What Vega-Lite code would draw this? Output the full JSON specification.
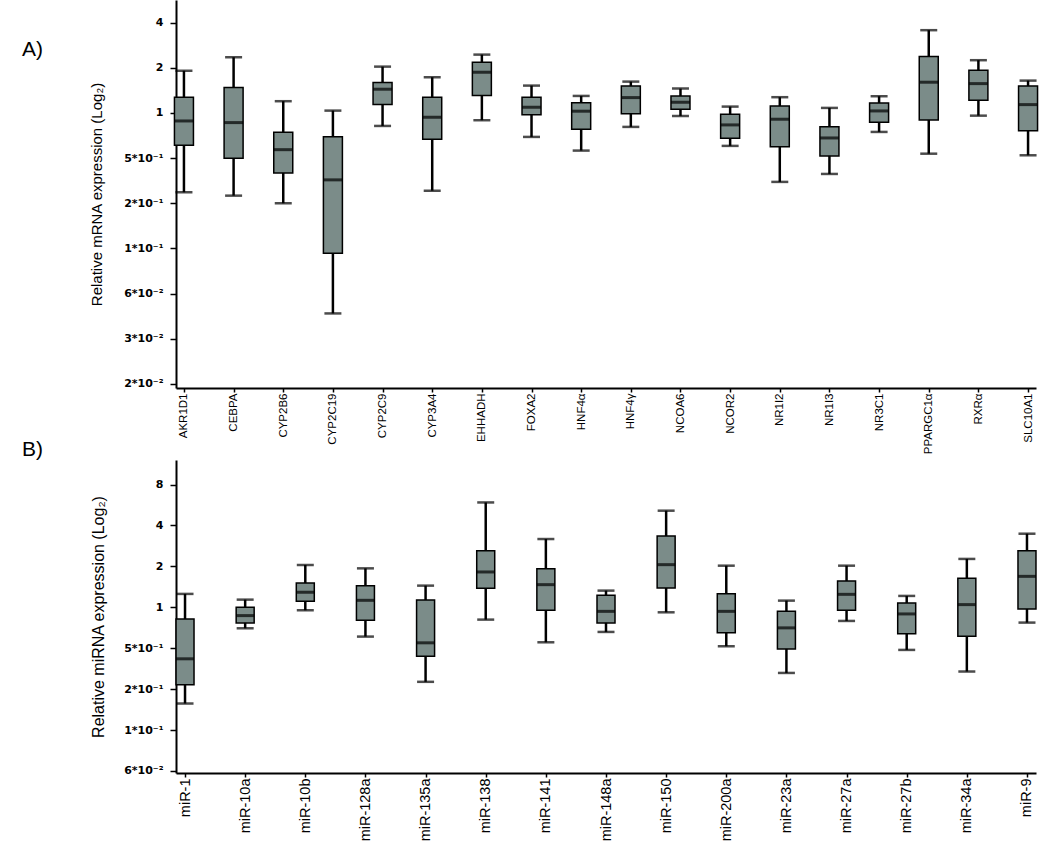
{
  "$schema": "https://vega.github.io/schema/vega-lite/v6.json",
  "padding": {"left": 22, "top": 0, "right": 5, "bottom": 0},
  "background": "white",
  "bounds": "flush",
  "spacing": 72,
  "config": {
    "view": {"stroke": null},
    "font": "Liberation Sans",
    "axis": {
      "grid": false,
      "domainColor": "#000000",
      "domainWidth": 2,
      "tickColor": "#000000",
      "tickWidth": 1.5,
      "labelColor": "#000000",
      "titleColor": "#000000"
    },
    "axisY": {
      "titleFontWeight": "normal",
      "labelFont": "DejaVu Sans", "labelFontWeight": "bold", "labelFontSize": 11,
      "tickSize": 6, "labelPadding": 7
    }
  },
  "datasets": {
    "mrna": [
      {"gene": "AKR1D1", "min": 0.296, "q1": 0.609, "median": 0.884, "q3": 1.27, "max": 1.91},
      {"gene": "CEBPA", "min": 0.281, "q1": 0.499, "median": 0.862, "q3": 1.48, "max": 2.35},
      {"gene": "CYP2B6", "min": 0.25, "q1": 0.398, "median": 0.569, "q3": 0.743, "max": 1.197},
      {"gene": "CYP2C19", "min": 0.0461, "q1": 0.116, "median": 0.358, "q3": 0.695, "max": 1.036},
      {"gene": "CYP2C9", "min": 0.819, "q1": 1.136, "median": 1.439, "q3": 1.592, "max": 2.035},
      {"gene": "CYP3A4", "min": 0.303, "q1": 0.668, "median": 0.936, "q3": 1.273, "max": 1.73},
      {"gene": "EHHADH", "min": 0.894, "q1": 1.305, "median": 1.867, "q3": 2.178, "max": 2.447},
      {"gene": "FOXA2", "min": 0.692, "q1": 0.974, "median": 1.091, "q3": 1.273, "max": 1.521},
      {"gene": "HNF4α", "min": 0.561, "q1": 0.779, "median": 1.027, "q3": 1.171, "max": 1.298},
      {"gene": "HNF4γ", "min": 0.807, "q1": 0.989, "median": 1.265, "q3": 1.514, "max": 1.617},
      {"gene": "NCOA6", "min": 0.955, "q1": 1.058, "median": 1.178, "q3": 1.298, "max": 1.452},
      {"gene": "NCOR2", "min": 0.603, "q1": 0.678, "median": 0.832, "q3": 0.98, "max": 1.102},
      {"gene": "NR1I2", "min": 0.347, "q1": 0.596, "median": 0.908, "q3": 1.113, "max": 1.273},
      {"gene": "NR1I3", "min": 0.392, "q1": 0.517, "median": 0.681, "q3": 0.81, "max": 1.08},
      {"gene": "NR3C1", "min": 0.747, "q1": 0.867, "median": 1.031, "q3": 1.166, "max": 1.292},
      {"gene": "PPARGC1α", "min": 0.535, "q1": 0.898, "median": 1.602, "q3": 2.374, "max": 3.56},
      {"gene": "RXRα", "min": 0.959, "q1": 1.215, "median": 1.568, "q3": 1.926, "max": 2.246},
      {"gene": "SLC10A1", "min": 0.522, "q1": 0.762, "median": 1.136, "q3": 1.514, "max": 1.642}
    ],
    "mirna": [
      {"gene": "miR-1", "min": 0.196, "q1": 0.269, "median": 0.418, "q3": 0.822, "max": 1.255},
      {"gene": "miR-10a", "min": 0.701, "q1": 0.768, "median": 0.869, "q3": 1.0, "max": 1.139},
      {"gene": "miR-10b", "min": 0.951, "q1": 1.107, "median": 1.289, "q3": 1.511, "max": 2.05},
      {"gene": "miR-128a", "min": 0.609, "q1": 0.803, "median": 1.126, "q3": 1.444, "max": 1.935},
      {"gene": "miR-135a", "min": 0.283, "q1": 0.437, "median": 0.548, "q3": 1.134, "max": 1.444},
      {"gene": "miR-138", "min": 0.812, "q1": 1.38, "median": 1.82, "q3": 2.61, "max": 5.91},
      {"gene": "miR-141", "min": 0.553, "q1": 0.951, "median": 1.468, "q3": 1.925, "max": 3.18},
      {"gene": "miR-148a", "min": 0.659, "q1": 0.768, "median": 0.934, "q3": 1.225, "max": 1.327},
      {"gene": "miR-150", "min": 0.919, "q1": 1.389, "median": 2.06, "q3": 3.35, "max": 5.14},
      {"gene": "miR-200a", "min": 0.517, "q1": 0.649, "median": 0.934, "q3": 1.261, "max": 2.025},
      {"gene": "miR-23a", "min": 0.329, "q1": 0.494, "median": 0.706, "q3": 0.934, "max": 1.12},
      {"gene": "miR-27a", "min": 0.794, "q1": 0.951, "median": 1.246, "q3": 1.564, "max": 2.025},
      {"gene": "miR-27b", "min": 0.486, "q1": 0.638, "median": 0.894, "q3": 1.077, "max": 1.213},
      {"gene": "miR-34a", "min": 0.337, "q1": 0.612, "median": 1.047, "q3": 1.634, "max": 2.27},
      {"gene": "miR-9", "min": 0.772, "q1": 0.973, "median": 1.69, "q3": 2.61, "max": 3.48}
    ]
  },
  "vconcat": [
    {
      "width": 860,
      "height": 388,
      "data": {"name": "mrna"},
      "title": {"text": "A)", "anchor": "start", "frame": "group", "orient": "top", "offset": 0, "baseline": "top", "dx": -154, "dy": 60, "fontSize": 21, "fontWeight": "normal", "font": "Liberation Sans", "color": "#000000"},
      "encoding": {
        "x": {
          "field": "gene", "type": "nominal", "sort": null,
          "scale": {"type": "point", "padding": 0.16},
          "axis": {"title": null, "labelAngle": -90, "labelFontSize": 11.5, "labelFont": "Liberation Sans", "tickSize": 4, "labelPadding": 1}
        },
        "y": {
          "field": "min", "type": "quantitative",
          "scale": {"type": "log", "base": 2, "domain": [0.01468, 5.657], "nice": false},
          "axis": {
            "title": "Relative mRNA expression (Log₂)",
            "titleFontSize": 15, "titlePadding": 19,
            "values": [0.015625, 0.03125, 0.0625, 0.125, 0.25, 0.5, 1, 2, 4],
            "labelExpr": "datum.value >= 1 ? format(datum.value, 'd') : datum.value == 0.5 ? '5*10⁻¹' : datum.value == 0.25 ? '2*10⁻¹' : datum.value == 0.125 ? '1*10⁻¹' : datum.value == 0.0625 ? '6*10⁻²' : datum.value == 0.03125 ? '3*10⁻²' : '2*10⁻²'"
          }
        }
      },
      "layer": [
        {
          "mark": {"type": "rule", "color": "#000000", "strokeWidth": 2.5},
          "encoding": {"y2": {"field": "max"}}
        },
        {
          "mark": {"type": "bar", "fill": "#7b8c89", "stroke": "#000000", "strokeWidth": 1.5, "width": 19},
          "encoding": {"y": {"field": "q1", "type": "quantitative"}, "y2": {"field": "q3"}}
        },
        {
          "mark": {"type": "tick", "color": "#000000", "thickness": 3, "size": 19},
          "encoding": {"y": {"field": "median", "type": "quantitative"}}
        },
        {
          "mark": {"type": "tick", "color": "#000000", "thickness": 2.5, "size": 17},
          "encoding": {}
        },
        {
          "mark": {"type": "tick", "color": "#000000", "thickness": 2.5, "size": 17},
          "encoding": {"y": {"field": "max", "type": "quantitative"}}
        }
      ]
    },
    {
      "width": 860,
      "height": 313,
      "data": {"name": "mirna"},
      "title": {"text": "B)", "anchor": "start", "frame": "group", "orient": "top", "offset": 0, "baseline": "top", "dx": -154, "dy": 0, "fontSize": 21, "fontWeight": "normal", "font": "Liberation Sans", "color": "#000000"},
      "encoding": {
        "x": {
          "field": "gene", "type": "nominal", "sort": null,
          "scale": {"type": "point", "padding": 0.15},
          "axis": {"title": null, "labelAngle": -90, "labelFontSize": 14.5, "labelFont": "Liberation Sans", "tickSize": 4, "labelPadding": 1}
        },
        "y": {
          "field": "min", "type": "quantitative",
          "scale": {"type": "log", "base": 2, "domain": [0.0604, 12.13], "nice": false},
          "axis": {
            "title": "Relative miRNA expression (Log₂)",
            "titleFontSize": 16, "titlePadding": 17,
            "values": [0.0625, 0.125, 0.25, 0.5, 1, 2, 4, 8],
            "labelExpr": "datum.value >= 1 ? format(datum.value, 'd') : datum.value == 0.5 ? '5*10⁻¹' : datum.value == 0.25 ? '2*10⁻¹' : datum.value == 0.125 ? '1*10⁻¹' : '6*10⁻²'"
          }
        }
      },
      "layer": [
        {
          "mark": {"type": "rule", "color": "#000000", "strokeWidth": 2.5},
          "encoding": {"y2": {"field": "max"}}
        },
        {
          "mark": {"type": "bar", "fill": "#7b8c89", "stroke": "#000000", "strokeWidth": 1.5, "width": 18},
          "encoding": {"y": {"field": "q1", "type": "quantitative"}, "y2": {"field": "q3"}}
        },
        {
          "mark": {"type": "tick", "color": "#000000", "thickness": 3, "size": 18},
          "encoding": {"y": {"field": "median", "type": "quantitative"}}
        },
        {
          "mark": {"type": "tick", "color": "#000000", "thickness": 2.5, "size": 17},
          "encoding": {}
        },
        {
          "mark": {"type": "tick", "color": "#000000", "thickness": 2.5, "size": 17},
          "encoding": {"y": {"field": "max", "type": "quantitative"}}
        }
      ]
    }
  ]
}
